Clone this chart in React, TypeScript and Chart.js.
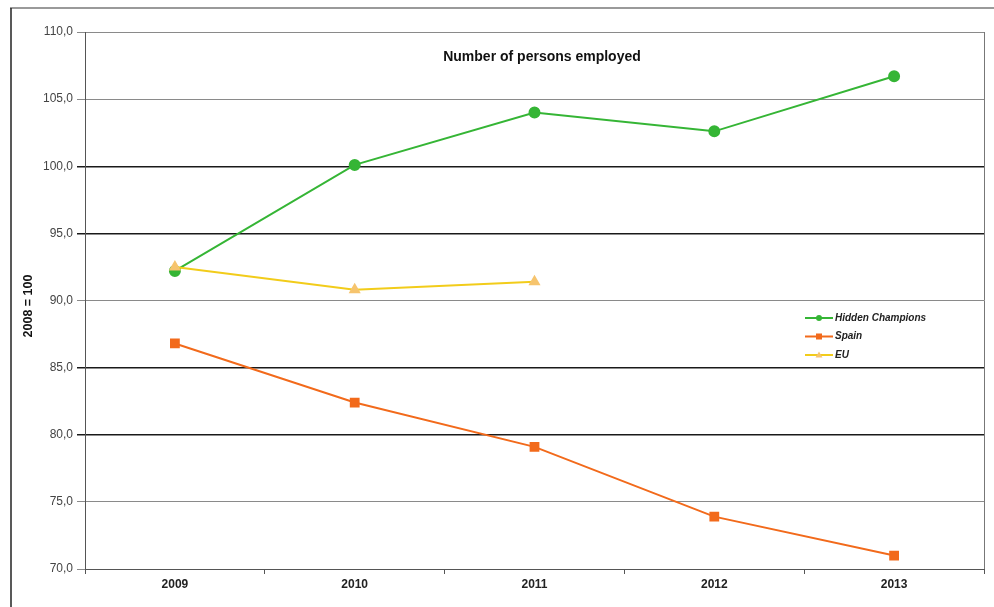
import React, { useEffect, useRef } from "react";
import { Chart, registerables } from "chart.js";

Chart.register(...registerables);

const years = ["2009", "2010", "2011", "2012", "2013"];
const hiddenChampions = [92.2, 100.1, 104.0, 102.6, 106.7];
const spain = [86.8, 82.4, 79.1, 73.9, 71.0];
const eu = [92.5, 90.8, 91.4, null, null];
const yTicks = [70, 75, 80, 85, 90, 95, 100, 105, 110];
const titleText = "Number of persons employed";
const yAxisTitle = "2008 = 100";

const GREEN = "#35b535";
const ORANGE = "#f26a1b";
const YELLOW = "#f2cc1a";
const YELLOW_MARK = "#f6c46e";

const darkLines = [100, 95, 85, 80];

const framePlugin = {
  id: "frame",
  beforeDraw(chart: any) {
    const ctx = chart.ctx;
    ctx.save();
    ctx.fillStyle = "#ffffff";
    ctx.fillRect(0, 0, chart.width, chart.height);
    ctx.strokeStyle = "#9a9a9a";
    ctx.lineWidth = 2;
    ctx.beginPath();
    ctx.moveTo(10, 8);
    ctx.lineTo(chart.width, 8);
    ctx.stroke();
    ctx.strokeStyle = "#222";
    ctx.lineWidth = 1.5;
    ctx.beginPath();
    ctx.moveTo(11, 8);
    ctx.lineTo(11, chart.height);
    ctx.stroke();
    ctx.restore();
  },
  afterDraw(chart: any) {
    const { ctx, chartArea } = chart;
    ctx.save();
    // right border of plot
    ctx.strokeStyle = "#777";
    ctx.lineWidth = 1;
    ctx.beginPath();
    ctx.moveTo(chartArea.right + 0.5, chartArea.top);
    ctx.lineTo(chartArea.right + 0.5, chartArea.bottom);
    ctx.stroke();
    // y axis title
    ctx.save();
    ctx.translate(29, 306);
    ctx.rotate(-Math.PI / 2);
    ctx.fillStyle = "#111";
    ctx.font = "bold 12.5px Arial, 'Liberation Sans', sans-serif";
    ctx.textAlign = "center";
    ctx.textBaseline = "middle";
    ctx.fillText(yAxisTitle, 0, 0);
    ctx.restore();
    // title
    ctx.fillStyle = "#111";
    ctx.font = "bold 14px Arial, 'Liberation Sans', sans-serif";
    ctx.textAlign = "center";
    ctx.textBaseline = "middle";
    ctx.fillText(titleText, 542, 57);
    // legend
    const items = chart.data.datasets.map((d: any) => ({
      label: d.label,
      color: d.borderColor,
      mark: d.pointBackgroundColor,
      style: d.pointStyle,
    }));
    const x0 = 805;
    const x1 = 833;
    let y = 318;
    ctx.font = "italic bold 10px Arial, 'Liberation Sans', sans-serif";
    ctx.textAlign = "left";
    items.forEach((it: any) => {
      ctx.strokeStyle = it.color;
      ctx.lineWidth = 2;
      ctx.beginPath();
      ctx.moveTo(x0, y);
      ctx.lineTo(x1, y);
      ctx.stroke();
      ctx.fillStyle = it.mark;
      const cx = (x0 + x1) / 2;
      if (it.style === "rect") {
        ctx.fillRect(cx - 3, y - 3, 6, 6);
      } else if (it.style === "triangle") {
        ctx.beginPath();
        ctx.moveTo(cx, y - 3.5);
        ctx.lineTo(cx + 3.5, y + 2.5);
        ctx.lineTo(cx - 3.5, y + 2.5);
        ctx.closePath();
        ctx.fill();
      } else {
        ctx.beginPath();
        ctx.arc(cx, y, 3, 0, Math.PI * 2);
        ctx.fill();
      }
      ctx.fillStyle = "#222";
      ctx.fillText(it.label, x1 + 2, y);
      y += 18.5;
    });
    ctx.restore();
  },
};

export default function App() {
  const ref = useRef<HTMLCanvasElement | null>(null);
  useEffect(() => {
    if (!ref.current) return;
    const chart = new Chart(ref.current, {
      type: "line",
      data: {
        labels: years,
        datasets: [
          {
            label: "Hidden Champions",
            data: hiddenChampions,
            order: 2,
            borderColor: GREEN,
            backgroundColor: GREEN,
            pointBackgroundColor: GREEN,
            pointBorderColor: GREEN,
            pointStyle: "circle",
            pointRadius: 5,
            borderWidth: 2,
          },
          {
            label: "Spain",
            data: spain,
            order: 1,
            borderColor: ORANGE,
            backgroundColor: ORANGE,
            pointBackgroundColor: ORANGE,
            pointBorderColor: ORANGE,
            pointStyle: "rect",
            pointRadius: 5.5,
            borderWidth: 2,
          },
          {
            label: "EU",
            data: eu,
            order: 0,
            borderColor: YELLOW,
            backgroundColor: YELLOW_MARK,
            pointBackgroundColor: YELLOW_MARK,
            pointBorderColor: YELLOW_MARK,
            pointStyle: "triangle",
            pointRadius: 5,
            borderWidth: 2,
          },
        ],
      },
      plugins: [framePlugin],
      options: {
        animation: false,
        responsive: false,
        maintainAspectRatio: false,
        layout: { padding: { top: 32, right: 10, left: 0, bottom: 0 } },
        plugins: {
          legend: { display: false },
          title: { display: false },
          tooltip: { enabled: false },
        },
        scales: {
          x: {
            type: "category",
            offset: true,
            afterFit: (s: any) => {
              s.height = 38;
            },
            grid: {
              offset: true,
              drawOnChartArea: false,
              drawTicks: true,
              tickLength: 5,
              color: "#555",
            },
            border: { display: true, color: "#555", width: 1 },
            ticks: {
              padding: 3,
              color: "#222",
              font: { family: "Arial, 'Liberation Sans', sans-serif", size: 12, weight: "bold" },
            },
          },
          y: {
            min: 70,
            max: 110,
            afterFit: (s: any) => {
              s.width = 85;
            },
            afterBuildTicks: (s: any) => {
              s.ticks = yTicks.map((v) => ({ value: v }));
            },
            grid: {
              drawTicks: true,
              tickLength: 8,
              color: (c: any) =>
                c.tick && darkLines.includes(c.tick.value) ? "#1a1a1a" : "#8a8a8a",
              lineWidth: (c: any) =>
                c.tick && darkLines.includes(c.tick.value) ? 1.5 : 1,
            },
            border: { display: true, color: "#555", width: 1 },
            ticks: {
              padding: 4,
              color: "#444",
              font: { family: "Arial, 'Liberation Sans', sans-serif", size: 12 },
              callback: (v: any) => Number(v).toFixed(1).replace(".", ","),
            },
            title: { display: false },
          },
        },
      },
    } as any);
    return () => chart.destroy();
  }, []);
  return (
    <div style={{ position: "fixed", left: 0, top: 0, width: 994, height: 607, background: "#fff" }}>
      <canvas ref={ref} width={994} height={607} style={{ display: "block" }} />
    </div>
  );
}
